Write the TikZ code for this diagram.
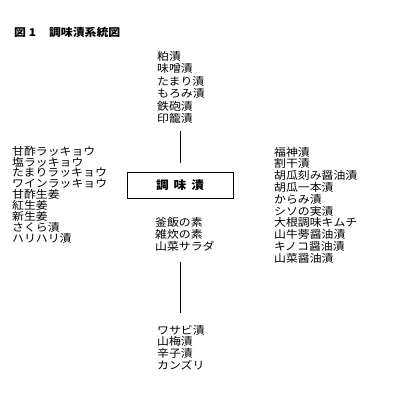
\documentclass[tikz,border=0pt]{standalone}
\usepackage{fontspec}
\setmainfont{Noto Sans CJK JP}[FakeStretch=1.1]
\tikzset{
  item/.style={anchor=west, inner sep=0pt, font=\fontsize{10.8}{12}\selectfont},
  ttl/.style={anchor=west, inner sep=0pt, font=\fontsize{10.8}{12}\selectfont\bfseries},
  mainbox/.style={draw, line width=0.9pt, minimum width=106pt, minimum height=26pt, inner sep=0pt, font=\fontsize{11.5}{14}\selectfont\bfseries},
  conn/.style={line width=0.9pt}
}
\begin{document}
\begin{tikzpicture}[x=1pt,y=-1pt]
\useasboundingbox (0,0) rectangle (400,400);
\node[ttl] (title) at (14,32) {図 1\hspace{13pt}調味漬系統図};
\node[mainbox] (main) at (180,185.5) {調\hspace{5pt}味\hspace{5pt}漬};
\foreach \t [count=\i] in {粕漬,味噌漬,たまり漬,もろみ漬,鉄砲漬,印籠漬}
  \node[item] (top\i) at (157,{56+(\i-1)*12.5}) {\t};
\foreach \t [count=\i] in {甘酢ラッキョウ,塩ラッキョウ,たまりラッキョウ,ワインラッキョウ,甘酢生姜,紅生姜,新生姜,さくら漬,ハリハリ漬}
  \node[item] (left\i) at (12,{151+(\i-1)*10.9}) {\t};
\foreach \t [count=\i] in {福神漬,割干漬,胡瓜刻み醤油漬,胡瓜一本漬,からみ漬,シソの実漬,大根調味キムチ,山牛蒡醤油漬,キノコ醤油漬,山菜醤油漬}
  \node[item] (right\i) at (274,{152+(\i-1)*11.8}) {\t};
\foreach \t [count=\i] in {釜飯の素,雑炊の素,山菜サラダ}
  \node[item] (mid\i) at (155,{222+(\i-1)*12}) {\t};
\foreach \t [count=\i] in {ワサビ漬,山梅漬,辛子漬,カンズリ}
  \node[item] (bot\i) at (157,{330+(\i-1)*11.7}) {\t};
\coordinate (ta) at (180,131);
\coordinate (tb) at (180,163);
\coordinate (ba) at (180,262);
\coordinate (bb) at (180,313);
\draw[conn] (ta) -- (tb);
\draw[conn] (ba) -- (bb);
\end{tikzpicture}
\end{document}
